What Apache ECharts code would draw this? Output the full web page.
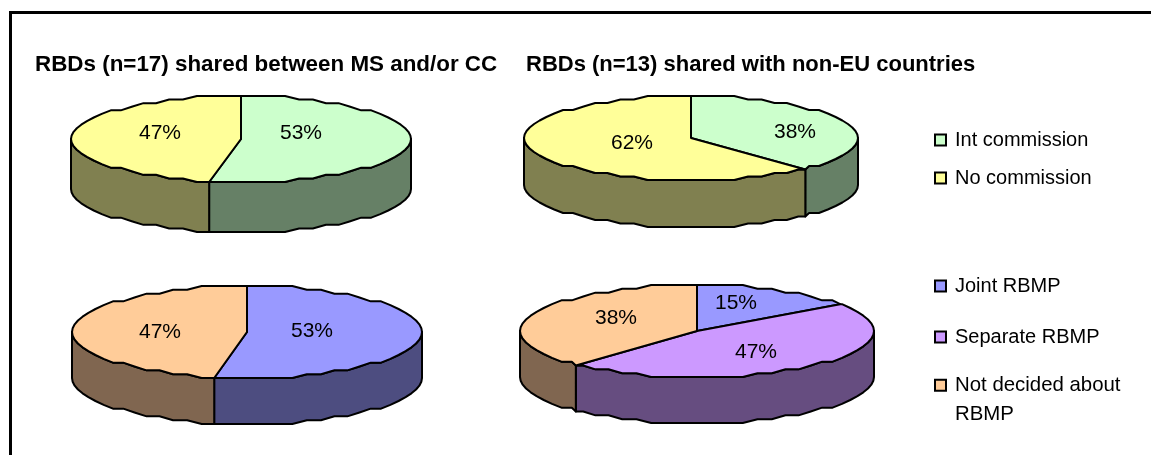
<!DOCTYPE html>
<html>
<head>
<meta charset="utf-8">
<style>html,body{margin:0;padding:0;background:#fff}#c{width:1151px;height:455px}</style>
<script src="https://cdn.jsdelivr.net/npm/echarts@6/dist/echarts.min.js"></script>
</head>
<body>
<div id="c"></div>
<script>
// ---- data ----
const commissionCategories = ['Int commission', 'No commission'];
const rbmpCategories = ['Joint RBMP', 'Separate RBMP', 'Not decided about RBMP'];
const titleLeft = 'RBDs (n=17) shared between MS and/or CC';
const titleRight = 'RBDs (n=13) shared with non-EU countries';
const sharedCommission = [53, 47];
const nonEuCommission = [38, 62];
const sharedRbmp = [53, 0, 47];
const nonEuRbmp = [15, 47, 38];

// ---- styles and layout ----
const FONT = '"Liberation Sans", Arial, sans-serif';
const commissionColors = [['#CCFFCC', '#668066'], ['#FFFF99', '#808050']];
const rbmpColors = [['#9999FF', '#4D4D80'], ['#CC99FF', '#664D80'], ['#FFCC99', '#806650']];
const pies = [
  {values: sharedCommission, cats: commissionCategories, colors: commissionColors,
   cx: 241, cy: 139, rx: 170, ry: 43, depth: 50, labels: [[60, -6], [-81, -6]]},
  {values: nonEuCommission, cats: commissionCategories, colors: commissionColors,
   cx: 691, cy: 138, rx: 167, ry: 42, depth: 47, labels: [[104, -6], [-59, 5]]},
  {values: sharedRbmp, cats: rbmpCategories, colors: rbmpColors,
   cx: 247, cy: 332, rx: 175, ry: 46, depth: 46, labels: [[65, -1], null, [-87, 0]]},
  {values: nonEuRbmp, cats: rbmpCategories, colors: rbmpColors,
   cx: 697, cy: 331, rx: 177, ry: 46, depth: 46, labels: [[39, -28], [59, 21], [-81, -13]]}
];
const STEP = 5, RIPPLE = 12;      // stepped outline of the low-resolution original

function ellipsePoints(p, a, b, dy) {
  const out = [];
  const angles = [a];
  for (let d = Math.ceil(a / STEP + 1e-6) * STEP; d < b - 1e-6; d += STEP) angles.push(d);
  angles.push(b);
  const grid = p.ry / RIPPLE;
  angles.forEach(d => {
    const t = d * Math.PI / 180;
    const x = p.cx + p.rx * Math.sin(t);
    const y = p.cy + Math.round(-p.ry * Math.cos(t) / grid) * grid;
    out.push([x, y + dy]);
  });
  return out;
}

function sideItem(p, color) {
  return function (params, api) {
    const a = api.value(1) * 3.6, b = a + api.value(0) * 3.6;
    const s = Math.max(a, 90), e = Math.min(b, 270);
    if (e <= s) return {type: 'group', children: []};
    const pts = ellipsePoints(p, s, e, 0).concat(ellipsePoints(p, s, e, p.depth).reverse());
    return {type: 'polygon', shape: {points: pts},
      style: {fill: color, stroke: '#000', lineWidth: 2, lineJoin: 'round'}};
  };
}

function topItem(p, color) {
  return function (params, api) {
    const v = api.value(0);
    const a = api.value(1) * 3.6, b = a + v * 3.6;
    const pts = [[p.cx, p.cy]].concat(ellipsePoints(p, a, b, 0));
    return {type: 'polygon', shape: {points: pts},
      style: {fill: color, stroke: '#000', lineWidth: 2, lineJoin: 'round'}};
  };
}

function labelItem(p, label) {
  return function (params, api) {
    return {type: 'text', style: {text: api.value(0) + '%',
      x: p.cx + label[0], y: p.cy + label[1], font: '21px ' + FONT, fill: '#000',
      textAlign: 'center', textVerticalAlign: 'middle'}};
  };
}

const series = [];
pies.forEach(p => {
  let cum = 0;
  p.values.forEach((v, i) => {
    if (v > 0) {
      const row = [{value: [v, cum]}];
      const name = p.cats[i];
      const itemStyle = {color: p.colors[i][0]};
      series.push({type: 'custom', name, coordinateSystem: 'none', silent: true, z: 2, data: row,
        itemStyle, renderItem: sideItem(p, p.colors[i][1])});
      series.push({type: 'custom', name, coordinateSystem: 'none', silent: true, z: 3, data: row,
        itemStyle, renderItem: topItem(p, p.colors[i][0])});
      series.push({type: 'custom', name, coordinateSystem: 'none', silent: true, z: 4, data: row,
        itemStyle, renderItem: labelItem(p, p.labels[i])});
    }
    cum += v;
  });
});

const legendBase = {orient: 'vertical', left: 934, itemWidth: 11, itemHeight: 11, align: 'left',
  icon: 'rect', selectedMode: false, padding: 0,
  textStyle: {fontFamily: FONT, fontSize: 20, color: '#000', padding: [0, 0, 0, 4]}};
const legItem = (name, c) => ({name, itemStyle: {color: c[0], borderColor: '#000', borderWidth: 2}});

const option = {
  animation: false,
  backgroundColor: '#fff',
  title: [
    {text: titleLeft, left: 35, top: 54, padding: 0,
     textStyle: {fontFamily: FONT, fontSize: 22.4, fontWeight: 'bold', color: '#000'}},
    {text: titleRight, left: 526, top: 54, padding: 0,
     textStyle: {fontFamily: FONT, fontSize: 22, fontWeight: 'bold', color: '#000'}}
  ],
  legend: [
    Object.assign({}, legendBase, {top: 130, itemGap: 18,
      data: commissionCategories.map((n, i) => legItem(n, commissionColors[i]))}),
    Object.assign({}, legendBase, {top: 276, itemGap: 31,
      data: rbmpCategories.slice(0, 2).map((n, i) => legItem(n, rbmpColors[i]))}),
    Object.assign({}, legendBase, {top: 341, itemGap: 0,
      formatter: n => '\n' + n.replace(' about ', ' about\n'),
      textStyle: {fontFamily: FONT, fontSize: 20.4, color: '#000', lineHeight: 29.5, padding: [0, 0, 0, 4]},
      data: [legItem(rbmpCategories[2], rbmpColors[2])]})
  ],
  graphic: [{type: 'rect', z: 0, silent: true, shape: {x: 10.5, y: 12.5, width: 1300, height: 600},
    style: {fill: 'none', stroke: '#000', lineWidth: 3}}],
  series
};
echarts.init(document.getElementById('c'), null, {renderer: 'canvas'}).setOption(option);
</script>
</body>
</html>
